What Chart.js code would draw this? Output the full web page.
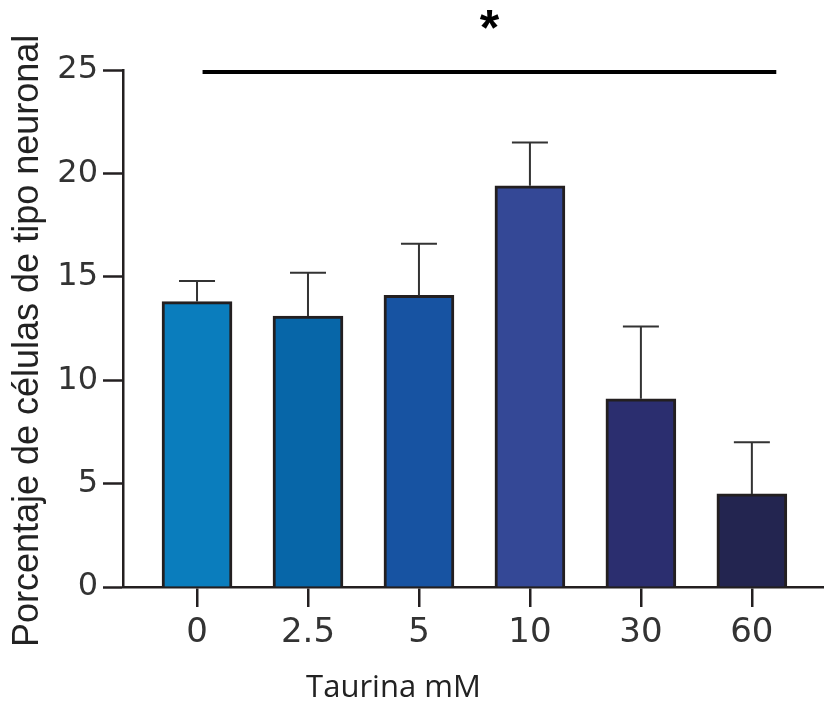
<!DOCTYPE html>
<html>
<head>
<meta charset="utf-8">
<script src="https://cdn.jsdelivr.net/npm/chart.js@4.4.1/dist/chart.umd.min.js"></script>
<style>
  html, body { margin: 0; padding: 0; background: #fff; }
</style>
</head>
<body>
<canvas id="taurina" width="824" height="702"></canvas>
<script>
// datos
const categories = ["0", "2.5", "5", "10", "30", "60"];
const means = [13.8, 13.1, 14.1, 19.4, 9.1, 4.5];
const errors = [1.0, 2.1, 2.5, 2.1, 3.5, 2.5];
const barColors = ["#0a7dbd", "#0766a8", "#1753a2", "#344896", "#2b2e6f", "#232550"];
const yTicks = [0, 5, 10, 15, 20, 25];
const sigFrom = 0.05, sigTo = 5.22, sigLevel = 25, sigLabel = "*";
const xTitle = "Taurina mM";
const yTitle = "Porcentaje de células de tipo neuronal";

const ink = "#231f20";

// ============================
// Barras de error (solo hacia arriba)
// ============================
const errorBars = {
  id: "errorBars",
  afterDatasetsDraw(chart) {
    const { ctx, scales: { y } } = chart;
    const meta = chart.getDatasetMeta(0);
    ctx.save();
    ctx.strokeStyle = "#333";
    ctx.lineWidth = 2;
    meta.data.forEach((bar, i) => {
      const top = y.getPixelForValue(means[i] + errors[i]);
      const base = y.getPixelForValue(means[i]);
      ctx.beginPath();
      ctx.moveTo(bar.x, base);
      ctx.lineTo(bar.x, top);
      ctx.moveTo(bar.x - 18, top);
      ctx.lineTo(bar.x + 18, top);
      ctx.stroke();
    });
    ctx.restore();
  }
};

// ============================
// Linea de significancia + asterisco + titulos de ejes
// ============================
const annotations = {
  id: "annotations",
  afterDraw(chart) {
    const { ctx, scales: { x, y } } = chart;
    const x1 = x.getPixelForValue(sigFrom);
    const x2 = x.getPixelForValue(sigTo);
    const yy = y.getPixelForValue(sigLevel) + 2;
    ctx.save();
    ctx.strokeStyle = "#000";
    ctx.lineWidth = 4;
    ctx.beginPath();
    ctx.moveTo(x1, yy);
    ctx.lineTo(x2, yy);
    ctx.stroke();
    ctx.fillStyle = "#000";
    ctx.font = "bold 50px 'Liberation Sans', Arial, sans-serif";
    ctx.textAlign = "center";
    ctx.textBaseline = "alphabetic";
    ctx.fillText(sigLabel, (x1 + x2) / 2, 45);

    // titulo del eje x, algo a la izquierda del centro como en la figura
    ctx.fillStyle = "#222";
    ctx.font = "31px 'Open Sans', sans-serif";
    ctx.fillText(xTitle, x.getPixelForValue(1.77), 697);

    // titulo del eje y, girado
    ctx.translate(28, y.getPixelForValue(11.9));
    ctx.rotate(-Math.PI / 2);
    ctx.font = "36px 'Liberation Sans', Arial, sans-serif";
    ctx.textBaseline = "middle";
    ctx.fillText(yTitle, 0, 0);
    ctx.restore();
  }
};

new Chart(document.getElementById("taurina"), {
  type: "bar",
  data: {
    datasets: [{
      data: means.map((v, i) => ({ x: i, y: v })),
      backgroundColor: barColors,
      borderColor: ink,
      borderWidth: 3,
      barThickness: 70
    }]
  },
  options: {
    responsive: false,
    animation: false,
    layout: { padding: { top: 70, left: 0, right: 0, bottom: 0 } },
    plugins: { legend: { display: false }, tooltip: { enabled: false } },
    scales: {
      x: {
        type: "linear",
        offset: false,
        min: -0.667,
        max: 5.65,
        afterBuildTicks: s => { s.ticks = categories.map((c, i) => ({ value: i })); },
        afterFit: s => { s.height = 115; },
        ticks: {
          callback: v => categories[v],
          font: { family: "'DejaVu Sans'", size: 34 },
          color: "#333",
          padding: 6,
          autoSkip: false,
          maxRotation: 0
        },
        grid: { offset: false, drawOnChartArea: false, drawTicks: true, tickLength: 20, tickWidth: 2.5, tickColor: ink, lineWidth: 2.5, color: ink },
        border: { color: ink, width: 2.5 }
      },
      y: {
        min: 0,
        max: 25,
        afterBuildTicks: s => { s.ticks = yTicks.map(v => ({ value: v })); },
        afterFit: s => { s.width = 123; },
        ticks: {
          font: { family: "'DejaVu Sans'", size: 32 },
          color: "#333",
          padding: 5
        },
        grid: { drawOnChartArea: false, tickLength: 20, tickWidth: 2.5, tickColor: ink, color: ink },
        border: { color: ink, width: 2.5 }
      }
    }
  },
  plugins: [errorBars, annotations]
});
</script>
</body>
</html>
